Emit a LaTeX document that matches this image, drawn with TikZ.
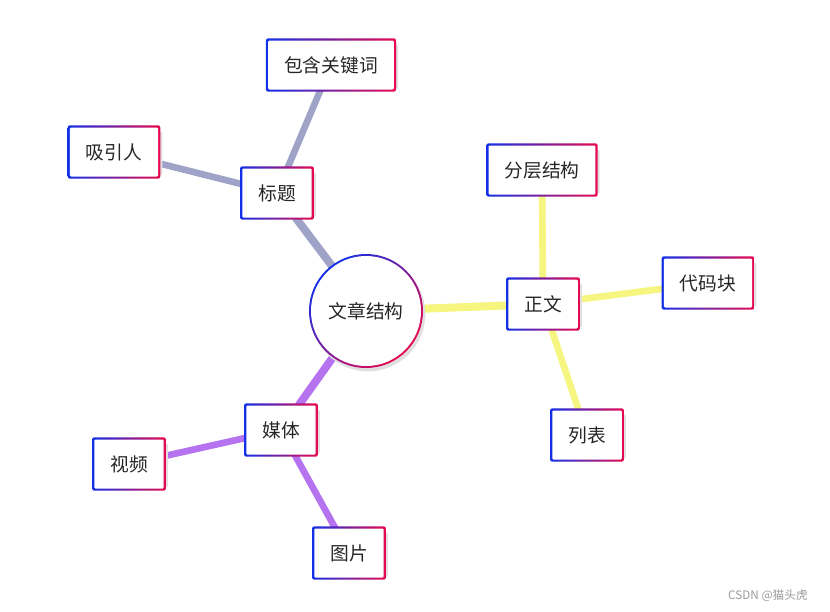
\documentclass[tikz,border=0pt]{standalone}
\usepackage{fontspec}
\setmainfont{Noto Sans CJK SC}
\usetikzlibrary{backgrounds}
\definecolor{gblue}{HTML}{1230E8}
\definecolor{gred}{HTML}{E8094F}
\definecolor{lgrey}{HTML}{A0A3C8}
\definecolor{lyellow}{HTML}{F5F57F}
\definecolor{lpurple}{HTML}{B673F0}
\begin{document}
\begin{tikzpicture}[x=0.03cm,y=-0.03cm,
	box/.style={rectangle, fill=white, rounded corners=1pt, inner xsep=0.48cm, minimum height=1.47cm, font=\fontsize{16pt}{19pt}\selectfont, text=black!85},
	hub/.style={circle, fill=white, minimum size=3.3cm, inner sep=0pt, font=\fontsize{16pt}{19pt}\selectfont, text=black!85},
	link/.style={line width=#1, line cap=butt},
	link/.default={0.2cm}]
	\useasboundingbox (0,0) rectangle (830,612);
	% nodes
	\node[hub] (wz) at (366,311) {文章结构};
	\node[box] (bt) at (277,193) {标题};
	\node[box] (gj) at (331,65)  {包含关键词};
	\node[box] (xy) at (114,152) {吸引人};
	\node[box] (zw) at (543,304) {正文};
	\node[box] (fc) at (542,170) {分层结构};
	\node[box] (dm) at (708,283) {代码块};
	\node[box] (lb) at (587,435) {列表};
	\node[box] (mt) at (281,430) {媒体};
	\node[box] (sp) at (129,464) {视频};
	\node[box] (tp) at (349,553) {图片};
	\node[text=black!40, font=\fontsize{10pt}{12pt}\selectfont] (wm) at (768,596) {CSDN @猫头虎};
	\begin{pgfonlayer}{background}
		% connectors
		\draw[lgrey, link=0.24cm] (wz) -- (bt);
		\draw[lgrey, link] (bt) -- (gj);
		\draw[lgrey, link] (bt) -- (xy);
		\draw[lyellow, link=0.24cm] (wz) -- (zw);
		\draw[lyellow, link] (zw) -- (fc);
		\draw[lyellow, link] (zw) -- (dm);
		\draw[lyellow, link] (zw) -- (lb);
		\draw[lpurple, link=0.24cm] (wz) -- (mt);
		\draw[lpurple, link] (mt) -- (sp);
		\draw[lpurple, link] (mt) -- (tp);
		% frames
		\foreach \n in {bt,gj,xy,zw,fc,dm,lb,mt,sp,tp}{
			\fill[black!12, rounded corners=2pt] ([shift={(-1,-1)}]\n.south west) rectangle ([shift={(4,4)}]\n.north east);
			\shade[left color=gblue, right color=gred, rounded corners=2pt] ([shift={(-2,2)}]\n.south west) rectangle ([shift={(2,-2)}]\n.north east);
		}
		\fill[black!12] ([shift={(2,3)}]wz.center) circle (1.72cm);
		\shade[left color=gblue, right color=gred, shading angle=45] (wz.center) circle (1.71cm);
	\end{pgfonlayer}
\end{tikzpicture}
\end{document}
